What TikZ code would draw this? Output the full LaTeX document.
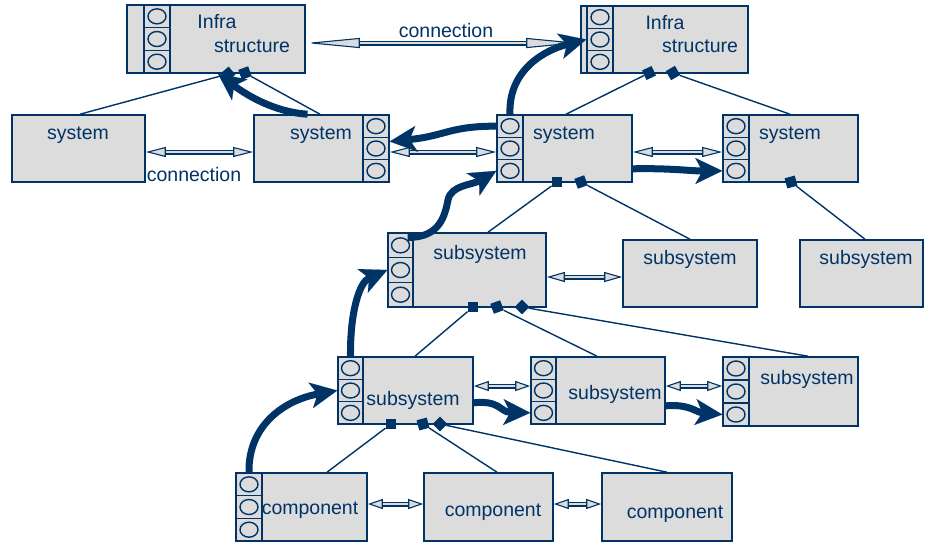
\documentclass[tikz,border=0pt]{standalone}
\usepackage{fontspec}
\setmainfont{Liberation Sans}
\usetikzlibrary{arrows.meta,calc}
\definecolor{navy}{RGB}{0,51,102}
\definecolor{boxgray}{RGB}{220,220,220}

% box from corner (x1,y1) to (x2,y2)
\newcommand\mkbox[5]{%
  \pgfmathsetmacro\bw{#4-#2}\pgfmathsetmacro\bh{#5-#3}%
  \node[box, minimum width=\bw pt, minimum height=\bh pt] (#1) at ({(#2+#4)/2},{(#3+#5)/2}) {};}

% column of three port cells, named <prefix>-1 .. <prefix>-3
\newcommand\mkports[5]{%
  \pgfmathsetmacro\pw{#4-#2}\pgfmathsetmacro\ph{(#5-#3)/3}%
  \foreach \k in {1,2,3}{%
    \node[portcell, minimum width=\pw pt, minimum height=\ph pt] (#1-\k) at ({(#2+#4)/2},{#3+(\k-0.5)*\ph}) {};}}

\begin{document}
\begin{tikzpicture}[x=1pt, y=-1pt,
  font=\fontsize{19.5}{23}\selectfont,
  box/.style={rectangle, draw=navy, fill=boxgray, line width=1.6pt, inner sep=0pt},
  portcell/.style={rectangle, draw=navy, fill=boxgray, line width=1.4pt, inner sep=0pt,
    path picture={\draw[navy, line width=1.4pt] (path picture bounding box.center) ellipse (9pt and 7.5pt);}},
  lbl/.style={inner sep=0pt, text=navy},
  conn/.style={draw=navy, line width=1.4pt},
  mk/.style={rectangle, fill=navy, minimum size=10.5pt, inner sep=0pt},
  bushead/.style={{Triangle[length=#1,width=10pt,fill=boxgray,line width=1.1pt]}-{Triangle[length=#1,width=10pt,fill=boxgray,line width=1.1pt]}},
  bus/.style={draw=navy, double=boxgray, double distance=2.8pt, line width=1.1pt, bushead=#1},
  bus/.default=20pt,
  flow/.style={draw=navy, line width=7pt, -{Stealth[length=27pt,width=26pt,inset=7pt,line width=0.1pt]}}]

\useasboundingbox (0,0) rectangle (925,542);

% ---------- boxes ----------
\mkbox{i1}{127}{5}{305}{73}   \mkports{i1}{144}{5}{170}{73}
\mkbox{i2}{581}{6}{748}{73}   \mkports{i2}{587}{6}{613}{73}
\mkbox{s1}{12}{115}{145}{182}
\mkbox{s2}{254}{115}{389}{182} \mkports{s2}{363}{115}{389}{182}
\mkbox{s3}{497}{115}{632}{182} \mkports{s3}{497}{115}{523}{182}
\mkbox{s4}{723}{115}{858}{182} \mkports{s4}{723}{115}{749}{182}
\mkbox{ssm}{388}{233}{546}{307} \mkports{ssm}{388}{233}{413}{307}
\mkbox{ssA}{623}{240}{757}{307}
\mkbox{ssB}{800}{240}{923}{307}
\mkbox{sL}{338}{357}{473}{424} \mkports{sL}{338}{357}{363}{424}
\mkbox{sM}{531}{357}{665}{424} \mkports{sM}{531}{357}{556}{424}
\mkbox{sR}{723}{357}{858}{426} \mkports{sR}{723}{357}{749}{426}
\mkbox{c1}{236}{473}{367}{541} \mkports{c1}{236}{473}{262}{541}
\mkbox{c2}{424}{473}{553}{541}
\mkbox{c3}{602}{473}{732}{541}

% ---------- labels ----------
\node[lbl] (t-i1a) at (217,22) {Infra};
\node[lbl] (t-i1b) at (252,46) {structure};
\node[lbl] (t-i2a) at (665,23) {Infra};
\node[lbl] (t-i2b) at (700,46) {structure};
\node[lbl] (t-s1) at (78,135) {system};
\node[lbl] (t-s2) at (321,135) {system};
\node[lbl] (t-s3) at (564,135) {system};
\node[lbl] (t-s4) at (790,135) {system};
\node[lbl] (t-ssm) at (480,254) {subsystem};
\node[lbl] (t-ssA) at (690,259) {subsystem};
\node[lbl] (t-ssB) at (866,259) {subsystem};
\node[lbl] (t-sL) at (413,400) {subsystem};
\node[lbl] (t-sM) at (615,394) {subsystem};
\node[lbl] (t-sR) at (807,379) {subsystem};
\node[lbl] (t-c1) at (310,510) {component};
\node[lbl] (t-c2) at (493,512) {component};
\node[lbl] (t-c3) at (675,514) {component};
\node[lbl] (t-conn1) at (446,31) {connection};
\node[lbl] (t-conn2) at (194,175) {connection};

% ---------- aggregation markers ----------
\node[mk, rotate=40] (mi1a) at (228,74) {};
\node[mk, rotate=20] (mi1b) at (245,73) {};
\node[mk, rotate=25] (mi2a) at (649,73) {};
\node[mk, rotate=30] (mi2b) at (673,73) {};
\node[mk] (ms3a) at (557,182) {};
\node[mk, rotate=20] (ms3b) at (581,182) {};
\node[mk, rotate=15] (ms4) at (791,182) {};
\node[mk] (mma) at (473,307) {};
\node[mk, rotate=20] (mmb) at (497,307) {};
\node[mk, rotate=45] (mmc) at (522,307) {};
\node[mk] (mLa) at (391,424) {};
\node[mk, rotate=15] (mLb) at (423,424) {};
\node[mk, rotate=45] (mLc) at (440,424) {};

% ---------- containment lines ----------
\draw[conn] (mi1a) -- (s1.north -| 80,0);
\draw[conn] (mi1b) -- (s2.north -| 320,0);
\draw[conn] (mi2a) -- (s3.north -| 566,0);
\draw[conn] (mi2b) -- (s4.north -| 790,0);
\draw[conn] (ms3a) -- (ssm.north -| 488,0);
\draw[conn] (ms3b) -- (ssA.north -| 690,0);
\draw[conn] (ms4) -- (ssB.north -| 865,0);
\draw[conn] (mma) -- (sL.north -| 415,0);
\draw[conn] (mmb) -- (sM.north -| 597,0);
\draw[conn] (mmc) -- (sR.north -| 808,0);
\draw[conn] (mLa) -- (c1.north -| 327,0);
\draw[conn] (mLb) -- (c2.north -| 497,0);
\draw[conn] (mLc) -- (c3.north -| 667,0);

% ---------- connections ----------
\draw[bus=54pt] (i1.east |- 0,43) -- (i2.west |- 0,43);
\draw[bus] (s1.east |- 0,152) -- (s2.west |- 0,152);
\draw[bus] (s2.east |- 0,152) -- (s3.west |- 0,152);
\draw[bus] (s3.east |- 0,152) -- (s4.west |- 0,152);
\draw[bus=18pt] (ssm.east |- 0,277) -- (ssA.west |- 0,277);
\draw[bus=15pt] (sL.east |- 0,386) -- (sM.west |- 0,386);
\draw[bus=15pt] (sM.east |- 0,386) -- (sR.west |- 0,386);
\draw[bus=15pt] (c1.east |- 0,504) -- (c2.west |- 0,504);
\draw[bus=15pt] (c2.east |- 0,504) -- (c3.west |- 0,504);

% ---------- flows ----------
\draw[flow] (c1-1.north) .. controls (248,425) and (285,400) .. (sL-2.west);
\draw[flow] (sL-1.north) .. controls (350,310) and (360,282) .. (ssm-2.west);
\draw[flow] ([xshift=-6pt,yshift=-5pt]ssm-1.north east) .. controls (440,238) and (445,215) .. (448,200)
  .. controls (451,185) and (472,185) .. (s3-3.west);
\draw[flow] (s3-1.north) .. controls (508,70) and (545,50) .. (i2-2.west);
\draw[flow] (s3-1.west) .. controls (450,126) and (445,136) .. ([yshift=7pt]s2-2.east);
\draw[flow] ([xshift=-14pt]s2.north) .. controls (275,112) and (248,96) .. ([xshift=2pt]i1.south);
\draw[flow] ([yshift=14pt]s3.south east) .. controls (670,168) and (690,171) .. (s4-3.west);
\draw[flow] ([yshift=22pt]sL.south east) .. controls (500,400) and (500,412) .. (sM-3.west);
\draw[flow] ([yshift=19pt]sM.south east) .. controls (690,404) and (695,412) .. (sR-3.west);
\end{tikzpicture}
\end{document}
